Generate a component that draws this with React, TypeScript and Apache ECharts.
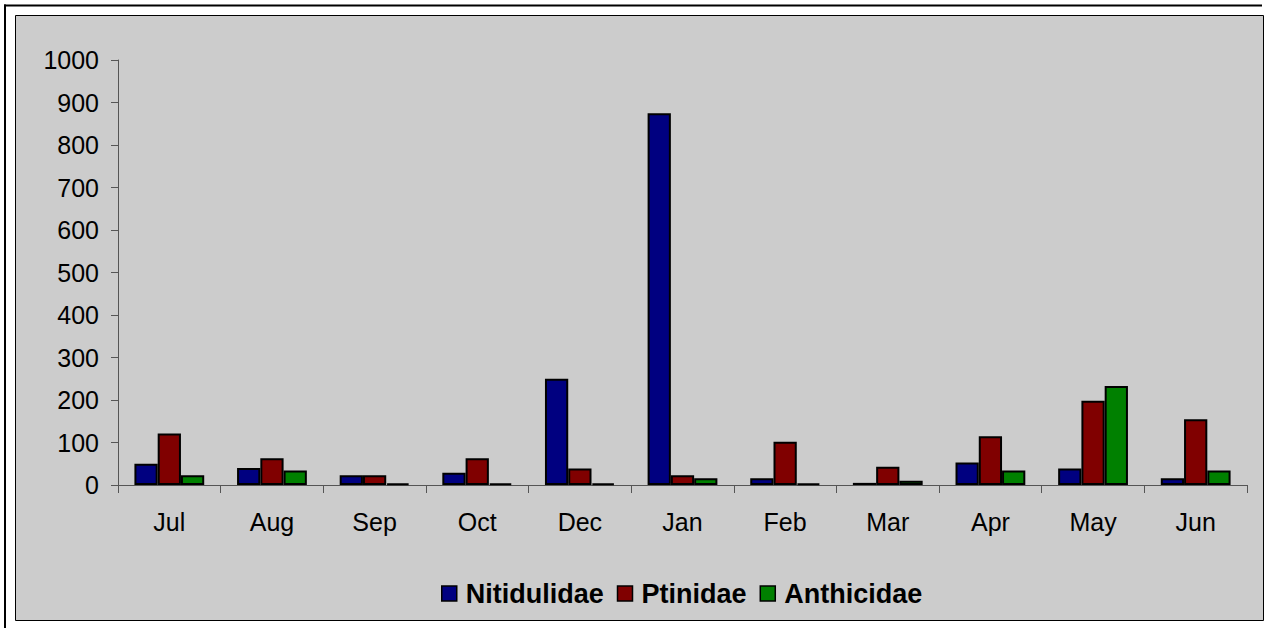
import React, { useEffect, useRef } from "react";
import * as echarts from "echarts";

const months = ["Jul", "Aug", "Sep", "Oct", "Dec", "Jan", "Feb", "Mar", "Apr", "May", "Jun"];
const nitidulidae = [50, 40, 23, 29, 250, 875, 16, 5, 53, 39, 16];
const ptinidae = [121, 63, 23, 63, 39, 23, 102, 43, 115, 198, 155];
const anthicidae = [23, 34, 4, 4, 4, 16, 3, 10, 34, 233, 34];
const seriesNames = ["Nitidulidae", "Ptinidae", "Anthicidae"];
const seriesColors = ["#000080", "#800000", "#008000"];

export default function App() {
  const ref = useRef<HTMLDivElement>(null);
  useEffect(() => {
    document.body.style.margin = "0";
    const chart = echarts.init(ref.current!, null, { renderer: "svg" });
    const font = "'Liberation Sans', Arial, sans-serif";
    const values = [nitidulidae, ptinidae, anthicidae];
    chart.setOption({
      animation: false,
      backgroundColor: "#ffffff",
      textStyle: { fontFamily: font },
      graphic: [
        {
          type: "rect",
          z: -10,
          silent: true,
          shape: { x: 15.5, y: 15.5, width: 1248, height: 605 },
          style: { fill: "#cccccc", stroke: "#000000", lineWidth: 1 },
        },
        {
          type: "line",
          z: -10,
          silent: true,
          shape: { x1: 4, y1: 5.5, x2: 1262, y2: 5.5 },
          style: { stroke: "#000000", lineWidth: 2 },
        },
        {
          type: "line",
          z: -10,
          silent: true,
          shape: { x1: 5, y1: 4.5, x2: 5, y2: 628 },
          style: { stroke: "#000000", lineWidth: 2 },
        },
      ],
      grid: { left: 118, right: 26, top: 60, bottom: 143, containLabel: false },
      legend: {
        data: seriesNames,
        top: 575,
        left: 436,
        padding: [5, 5, 5, 5],
        itemWidth: 15,
        itemHeight: 15,
        itemGap: 13,
        icon: "rect",
        itemStyle: { borderColor: "#000000", borderWidth: 1.5 },
        textStyle: {
          fontSize: 27,
          fontWeight: "bold",
          color: "#000",
          fontFamily: font,
          padding: [0, 0, 0, 4],
        },
      },
      xAxis: {
        type: "category",
        data: months,
        axisLine: { lineStyle: { color: "#555555", width: 1 } },
        axisTick: { show: true, length: 8, lineStyle: { color: "#555555" } },
        axisLabel: { fontSize: 25, color: "#000", margin: 24, fontFamily: font },
      },
      yAxis: {
        type: "value",
        min: 0,
        max: 1000,
        interval: 100,
        splitLine: { show: false },
        axisLine: { show: true, lineStyle: { color: "#555555", width: 1 } },
        axisTick: { show: true, length: 7, lineStyle: { color: "#555555" } },
        axisLabel: {
          fontSize: 25,
          color: "#000",
          margin: 19,
          fontFamily: font,
          formatter: (v: number) => String(v),
        },
      },
      series: seriesNames.map((name, i) => ({
        name,
        type: "bar",
        data: values[i],
        barGap: "0%",
        barCategoryGap: "32%",
        itemStyle: { color: seriesColors[i], borderColor: "#000000", borderWidth: 2 },
      })),
    });
    return () => chart.dispose();
  }, []);
  return (
    <div
      ref={ref}
      style={{ position: "fixed", left: 0, top: 0, width: 1273, height: 628 }}
    />
  );
}
